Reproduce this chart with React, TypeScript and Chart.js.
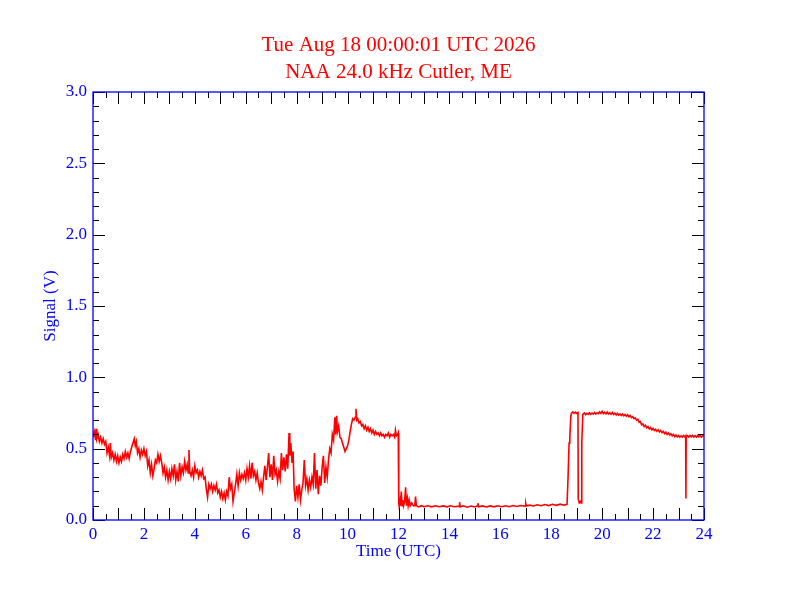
import React, { useEffect, useRef } from "react";
import { Chart, registerables } from "chart.js";

Chart.register(...registerables);

// [hour (UTC), signal (V)]
const earlyMorning: [number, number][] = [
  [0.0, 0.58], [0.05, 0.62], [0.1, 0.56], [0.12, 0.64], [0.15, 0.57], [0.2, 0.6],
  [0.25, 0.55], [0.3, 0.58], [0.35, 0.54], [0.4, 0.57], [0.45, 0.53], [0.5, 0.55],
  [0.55, 0.47], [0.6, 0.51], [0.65, 0.45], [0.68, 0.54], [0.72, 0.44], [0.77, 0.47],
  [0.82, 0.42], [0.87, 0.46], [0.92, 0.41], [0.97, 0.45], [1.02, 0.4], [1.07, 0.44],
  [1.12, 0.41], [1.17, 0.46], [1.22, 0.43], [1.27, 0.48], [1.32, 0.44], [1.37, 0.47],
  [1.42, 0.43], [1.47, 0.48], [1.52, 0.51], [1.57, 0.54], [1.62, 0.57], [1.66, 0.52],
  [1.7, 0.55], [1.75, 0.47], [1.8, 0.5], [1.85, 0.44], [1.9, 0.49], [1.95, 0.46],
  [2.0, 0.5], [2.05, 0.45], [2.1, 0.48], [2.15, 0.38], [2.2, 0.42], [2.25, 0.33],
  [2.3, 0.39], [2.35, 0.31], [2.4, 0.36], [2.45, 0.42], [2.5, 0.4], [2.55, 0.46],
  [2.6, 0.41], [2.65, 0.45], [2.7, 0.4], [2.75, 0.33], [2.8, 0.37], [2.85, 0.3],
  [2.9, 0.35], [2.95, 0.28], [3.0, 0.34], [3.05, 0.29], [3.1, 0.36], [3.15, 0.31],
  [3.2, 0.39], [3.25, 0.28], [3.3, 0.34], [3.35, 0.27], [3.4, 0.4], [3.45, 0.31],
  [3.5, 0.37], [3.55, 0.33], [3.6, 0.41], [3.65, 0.35], [3.7, 0.39], [3.74, 0.33],
  [3.77, 0.49], [3.8, 0.34], [3.85, 0.31], [3.9, 0.35], [3.95, 0.3], [4.0, 0.38],
];

const lateMorning: [number, number][] = [
  [4.05, 0.33], [4.1, 0.35], [4.15, 0.3], [4.2, 0.34], [4.25, 0.31], [4.3, 0.35],
  [4.35, 0.29], [4.4, 0.3], [4.45, 0.22], [4.5, 0.16], [4.55, 0.25], [4.6, 0.22],
  [4.65, 0.25], [4.7, 0.2], [4.75, 0.24], [4.8, 0.21], [4.85, 0.25], [4.9, 0.19],
  [4.95, 0.21], [5.0, 0.16], [5.05, 0.2], [5.1, 0.15], [5.15, 0.19], [5.2, 0.14],
  [5.25, 0.2], [5.3, 0.17], [5.35, 0.3], [5.4, 0.22], [5.45, 0.25], [5.5, 0.13],
  [5.55, 0.19], [5.6, 0.25], [5.65, 0.32], [5.7, 0.24], [5.75, 0.33], [5.8, 0.28],
  [5.85, 0.32], [5.9, 0.29], [5.95, 0.33], [6.0, 0.28], [6.05, 0.36], [6.1, 0.3],
  [6.15, 0.38], [6.2, 0.29], [6.25, 0.4], [6.3, 0.31], [6.35, 0.34], [6.4, 0.28],
  [6.45, 0.33], [6.5, 0.26], [6.55, 0.22], [6.6, 0.27], [6.65, 0.21], [6.7, 0.3],
  [6.75, 0.38], [6.8, 0.28], [6.85, 0.37], [6.9, 0.47], [6.95, 0.3], [7.0, 0.39],
  [7.05, 0.28], [7.1, 0.45], [7.15, 0.32], [7.2, 0.35], [7.25, 0.27], [7.3, 0.34],
  [7.35, 0.29], [7.4, 0.47], [7.45, 0.35], [7.5, 0.44], [7.55, 0.34], [7.6, 0.46],
  [7.65, 0.36], [7.7, 0.61], [7.73, 0.45], [7.77, 0.54], [7.82, 0.4], [7.86, 0.48],
  [7.9, 0.22], [7.95, 0.13], [8.0, 0.24], [8.05, 0.16], [8.1, 0.25], [8.15, 0.14],
  [8.2, 0.21],
];

const midday: [number, number][] = [
  [8.25, 0.26], [8.3, 0.42], [8.35, 0.24], [8.4, 0.29], [8.45, 0.21], [8.5, 0.28],
  [8.55, 0.23], [8.6, 0.3], [8.65, 0.25], [8.7, 0.47], [8.75, 0.22], [8.8, 0.35],
  [8.85, 0.18], [8.9, 0.31], [8.95, 0.24], [9.0, 0.37], [9.05, 0.45], [9.1, 0.26],
  [9.15, 0.37], [9.2, 0.3], [9.25, 0.42], [9.3, 0.5], [9.35, 0.47], [9.4, 0.6],
  [9.45, 0.56], [9.5, 0.72], [9.53, 0.6], [9.57, 0.73], [9.6, 0.62], [9.65, 0.66],
  [9.7, 0.58], [9.75, 0.57], [9.8, 0.54], [9.85, 0.51], [9.9, 0.48], [9.95, 0.5],
  [10.0, 0.52], [10.05, 0.56], [10.1, 0.62], [10.15, 0.67], [10.2, 0.71], [10.25, 0.7],
  [10.3, 0.72], [10.33, 0.78], [10.36, 0.7], [10.4, 0.71], [10.45, 0.68], [10.5, 0.69],
  [10.55, 0.66], [10.6, 0.67], [10.65, 0.64], [10.7, 0.66], [10.75, 0.63], [10.8, 0.65],
  [10.85, 0.62], [10.9, 0.64], [10.95, 0.61], [11.0, 0.63], [11.05, 0.6], [11.1, 0.62],
  [11.15, 0.6], [11.2, 0.61], [11.25, 0.59], [11.3, 0.61], [11.35, 0.59], [11.4, 0.6],
  [11.45, 0.58], [11.5, 0.6], [11.55, 0.59], [11.6, 0.61], [11.65, 0.58], [11.7, 0.6],
  [11.75, 0.59], [11.8, 0.6], [11.85, 0.58], [11.88, 0.63], [11.92, 0.59], [11.97, 0.6],
  [11.99, 0.61],
];

const afternoon: [number, number][] = [
  [12.01, 0.12], [12.03, 0.09], [12.06, 0.13], [12.08, 0.1], [12.11, 0.2], [12.14, 0.1],
  [12.17, 0.14], [12.2, 0.1], [12.24, 0.13], [12.28, 0.23], [12.31, 0.1], [12.35, 0.15],
  [12.38, 0.1], [12.42, 0.14], [12.46, 0.1], [12.52, 0.12], [12.58, 0.1], [12.64, 0.1],
  [12.67, 0.165], [12.7, 0.1], [12.8, 0.092], [12.9, 0.1], [13.0, 0.093], [13.15, 0.1],
  [13.3, 0.092], [13.45, 0.1], [13.6, 0.093], [13.75, 0.099], [13.9, 0.092], [14.05, 0.1],
  [14.2, 0.093], [14.38, 0.097], [14.4, 0.125], [14.42, 0.092], [14.55, 0.1], [14.7, 0.09],
  [14.85, 0.098], [15.0, 0.091], [15.1, 0.099], [15.12, 0.118], [15.14, 0.093], [15.3, 0.099],
  [15.45, 0.091], [15.6, 0.099], [15.75, 0.092], [15.9, 0.1], [16.05, 0.093], [16.2, 0.1],
  [16.35, 0.093], [16.5, 0.101], [16.65, 0.095], [16.8, 0.102], [16.98, 0.097], [17.0, 0.115],
  [17.02, 0.099], [17.15, 0.104], [17.3, 0.098], [17.45, 0.107], [17.6, 0.1], [17.75, 0.108],
  [17.9, 0.101], [18.05, 0.11], [18.2, 0.103], [18.35, 0.111], [18.5, 0.104], [18.62, 0.11],
];

const evening: [number, number][] = [
  [18.66, 0.3], [18.7, 0.54], [18.73, 0.58], [18.77, 0.73], [18.8, 0.75], [18.85, 0.758],
  [18.9, 0.748], [18.95, 0.756], [19.0, 0.747], [19.05, 0.753], [19.06, 0.15], [19.1, 0.12],
  [19.15, 0.13], [19.17, 0.12], [19.2, 0.54], [19.24, 0.74], [19.3, 0.75], [19.35, 0.738],
  [19.4, 0.748], [19.45, 0.74], [19.5, 0.752], [19.55, 0.741], [19.6, 0.75], [19.65, 0.742],
  [19.7, 0.753], [19.75, 0.743], [19.8, 0.752], [19.85, 0.745], [19.9, 0.758], [19.95, 0.747],
  [20.0, 0.762], [20.05, 0.746], [20.1, 0.755], [20.15, 0.744], [20.2, 0.757], [20.25, 0.743],
  [20.3, 0.752], [20.35, 0.741], [20.4, 0.754], [20.45, 0.74], [20.5, 0.749], [20.55, 0.736],
  [20.6, 0.747], [20.65, 0.735], [20.7, 0.744], [20.75, 0.733], [20.8, 0.743], [20.85, 0.73],
  [20.9, 0.739], [20.95, 0.728], [21.0, 0.737], [21.05, 0.724], [21.1, 0.732], [21.15, 0.718],
  [21.2, 0.725], [21.25, 0.71], [21.3, 0.716], [21.35, 0.7], [21.4, 0.706], [21.45, 0.686],
  [21.5, 0.69], [21.55, 0.668], [21.6, 0.674], [21.65, 0.655], [21.7, 0.664], [21.75, 0.646],
  [21.8, 0.655], [21.85, 0.638], [21.9, 0.648], [21.95, 0.632], [22.0, 0.642], [22.05, 0.627],
  [22.1, 0.636], [22.15, 0.622], [22.2, 0.632], [22.25, 0.617], [22.3, 0.627], [22.35, 0.612],
  [22.4, 0.622], [22.45, 0.606], [22.5, 0.616], [22.55, 0.6], [22.6, 0.61], [22.65, 0.596],
  [22.7, 0.604], [22.75, 0.59], [22.8, 0.6], [22.85, 0.585], [22.9, 0.595], [22.95, 0.582],
  [23.0, 0.592], [23.05, 0.58], [23.1, 0.59], [23.15, 0.581], [23.2, 0.592], [23.25, 0.582],
  [23.28, 0.59], [23.29, 0.15], [23.3, 0.585], [23.35, 0.592], [23.4, 0.582], [23.45, 0.593],
  [23.5, 0.583], [23.55, 0.592], [23.6, 0.581], [23.65, 0.591], [23.7, 0.582], [23.75, 0.593],
  [23.8, 0.583], [23.85, 0.591], [23.9, 0.581], [23.95, 0.59], [24.0, 0.585],
];

const titleLines = ["Tue Aug 18 00:00:01 UTC 2026", "NAA 24.0 kHz Cutler, ME"];

const xRange = [0, 24];
const yRange = [0, 3];

const SERIF = "'Liberation Serif', 'Times New Roman', serif";
const BLUE = "#0000ff";
const RED = "#ff0000";

// IDL-style frame with inward ticks on all four sides
const framePlugin = {
  id: "idlFrame",
  afterDraw(chart: any) {
    const { ctx, chartArea } = chart;
    const { left, right, top, bottom } = chartArea;
    const xs = chart.scales.x;
    const ys = chart.scales.y;
    ctx.save();
    ctx.strokeStyle = "#000000";
    ctx.lineWidth = 1;
    ctx.beginPath();
    for (let h = 0; h <= 48; h++) {
      const px = Math.round(xs.getPixelForValue(h / 2)) + 0.5;
      const len = h % 2 === 0 ? 12 : 6;
      ctx.moveTo(px, bottom);
      ctx.lineTo(px, bottom - len);
      ctx.moveTo(px, top);
      ctx.lineTo(px, top + len);
    }
    for (let i = 0; i <= 30; i++) {
      const py = Math.round(ys.getPixelForValue(i / 10)) + 0.5;
      const len = i % 5 === 0 ? 12 : 6;
      ctx.moveTo(left, py);
      ctx.lineTo(left + len, py);
      ctx.moveTo(right, py);
      ctx.lineTo(right - len, py);
    }
    ctx.stroke();
    ctx.strokeStyle = BLUE;
    ctx.lineWidth = 1.3;
    ctx.strokeRect(left, top, right - left, bottom - top);
    ctx.restore();
  },
};

const App = () => {
  const canvasRef = useRef<HTMLCanvasElement | null>(null);
  const chartRef = useRef<Chart | null>(null);

  useEffect(() => {
    if (!canvasRef.current) return;
    if (chartRef.current) chartRef.current.destroy();

    const points = [...earlyMorning, ...lateMorning, ...midday, ...afternoon, ...evening].map(
      ([x, y]) => ({ x, y })
    );

    chartRef.current = new Chart(canvasRef.current, {
      type: "line",
      data: {
        datasets: [
          {
            data: points,
            borderColor: RED,
            borderWidth: 1.6,
            pointRadius: 0,
            tension: 0,
            fill: false,
            yAxisID: "y",
          },
        ],
      },
      options: {
        animation: false,
        responsive: true,
        maintainAspectRatio: false,
        devicePixelRatio: 1,
        // small left pad so the title centres on the plot frame
        layout: { padding: { left: 5, right: 0, top: 0, bottom: 0 } },
        plugins: {
          legend: { display: false },
          tooltip: { enabled: false },
          title: {
            display: true,
            text: titleLines,
            color: RED,
            font: { family: SERIF, size: 21, weight: "normal", lineHeight: 27 / 21 },
            padding: { top: 31.5, bottom: 6.5 },
          },
        },
        scales: {
          x: {
            type: "linear",
            min: xRange[0],
            max: xRange[1],
            grid: { display: false, drawTicks: false },
            border: { display: false },
            ticks: {
              stepSize: 2,
              autoSkip: false,
              maxRotation: 0,
              padding: 4,
              color: BLUE,
              font: { family: SERIF, size: 17 },
            },
            title: {
              display: true,
              text: "Time (UTC)",
              color: BLUE,
              font: { family: SERIF, size: 17, lineHeight: 1.2 },
              padding: { top: 0, bottom: 50.5 },
            },
            afterFit: (scale: any) => {
              scale.height = 92;
            },
          },
          y: {
            type: "linear",
            position: "left",
            min: yRange[0],
            max: yRange[1],
            grid: { display: false, drawTicks: false },
            border: { display: false },
            ticks: {
              stepSize: 0.5,
              padding: 6,
              color: BLUE,
              font: { family: SERIF, size: 17 },
              callback: (v: any) => Number(v).toFixed(1),
            },
            title: {
              display: true,
              text: "Signal (V)",
              color: BLUE,
              font: { family: SERIF, size: 17, lineHeight: 1.2 },
              padding: { top: 35, bottom: 0 },
            },
            afterFit: (scale: any) => {
              scale.width = 88;
            },
          },
          // empty right axis only reserves the right margin
          yRight: {
            type: "linear",
            position: "right",
            min: yRange[0],
            max: yRange[1],
            grid: { display: false, drawTicks: false },
            border: { display: false },
            ticks: { display: false },
            afterFit: (scale: any) => {
              scale.width = 88;
            },
          },
        },
      },
      plugins: [framePlugin],
    });

    return () => {
      if (chartRef.current) {
        chartRef.current.destroy();
        chartRef.current = null;
      }
    };
  }, []);

  return (
    <div
      style={{
        position: "absolute",
        left: 0,
        top: 0,
        width: 792,
        height: 612,
        background: "#ffffff",
      }}
    >
      <canvas ref={canvasRef} />
    </div>
  );
};

export default App;
